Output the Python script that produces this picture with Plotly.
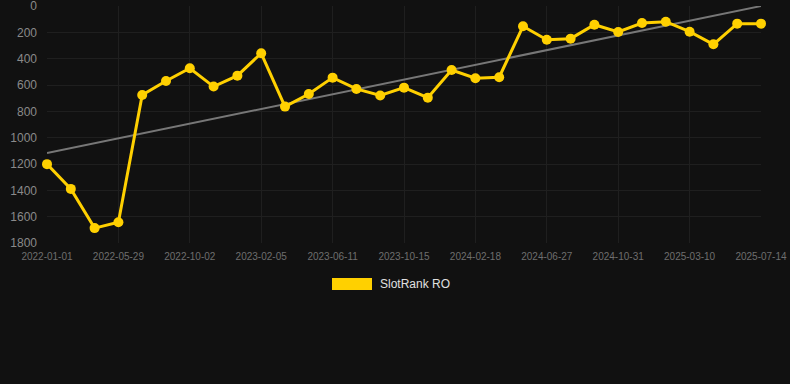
import numpy as np
import plotly.graph_objects as go

dates = [
    "2022-01-01", "2022-02-19", "2022-04-09", "2022-05-29", "2022-07-10", "2022-08-21",
    "2022-10-02", "2022-11-13", "2022-12-25", "2023-02-05", "2023-03-19", "2023-04-30",
    "2023-06-11", "2023-07-23", "2023-09-03", "2023-10-15", "2023-11-26", "2024-01-07",
    "2024-02-18", "2024-04-01", "2024-05-14", "2024-06-27", "2024-08-08", "2024-09-19",
    "2024-10-31", "2024-12-13", "2025-01-25", "2025-03-10", "2025-04-21", "2025-06-02",
    "2025-07-14",
]
rank = [1201, 1389, 1687, 1642, 676, 570, 473, 612, 529, 359, 764, 668, 544, 630, 680,
        620, 696, 486, 549, 541, 154, 256, 248, 142, 197, 129, 119, 195, 291, 134, 134]
tick_dates = dates[::3]
y_ticks = [0, 200, 400, 600, 800, 1000, 1200, 1400, 1600, 1800]
series_name = "SlotRank RO"

idx = np.arange(len(rank))
slope, intercept = np.polyfit(idx, rank, 1)
trend = [intercept + slope * i for i in idx]

BG = "#111111"
GOLD = "#FFD000"
GRID = "#1f1f1f"

fig = go.Figure()
fig.add_trace(go.Scatter(
    x=dates, y=trend, mode="lines",
    line=dict(color="#777777", width=2),
    showlegend=False, hoverinfo="skip", cliponaxis=False,
))
fig.add_trace(go.Scatter(
    x=dates, y=rank, mode="lines+markers", name=series_name,
    line=dict(color=GOLD, width=3),
    marker=dict(color=GOLD, size=10),
    showlegend=False, cliponaxis=False,
))

L, R, T, B = 47, 29, 6, 141
W, H = 790, 384
pw = W - L - R
ph = H - T - B

def px(x):
    return (x - L) / pw

def py(y):
    return (H - B - y) / ph

fig.add_shape(type="rect", xref="paper", yref="paper",
              x0=px(332), x1=px(372), y0=py(290), y1=py(278),
              fillcolor=GOLD, line=dict(width=0))
fig.add_annotation(xref="paper", yref="paper", x=px(378), y=py(284),
                   text=series_name, showarrow=False, xanchor="left", yanchor="middle",
                   font=dict(size=12, color="#e0e0e0", family="Liberation Sans, Arial, sans-serif"))

fig.update_layout(
    width=W, height=H,
    margin=dict(l=L, r=R, t=T, b=B, autoexpand=False),
    paper_bgcolor=BG, plot_bgcolor=BG,
    font=dict(family="Liberation Sans, Arial, sans-serif"),
    showlegend=False,
    xaxis=dict(
        type="category", range=[0, len(dates) - 1], automargin=False,
        tickmode="array", tickvals=tick_dates, ticktext=tick_dates,
        tickfont=dict(size=10, color="#6e6e6e"),
        showgrid=True, gridcolor=GRID, gridwidth=1,
        zeroline=False, showline=False, ticks="", ticklabelstandoff=6,
        ticklabeloverflow="allow",
    ),
    yaxis=dict(
        range=[1800, 0], tickmode="array", tickvals=y_ticks, automargin=False,
        tickfont=dict(size=12, color="#8a8a8a"),
        showgrid=True, gridcolor=GRID, gridwidth=1,
        zeroline=False, showline=False, ticks="", ticklabelstandoff=9,
        ticklabeloverflow="allow",
    ),
)

fig.write_html("out.html")
